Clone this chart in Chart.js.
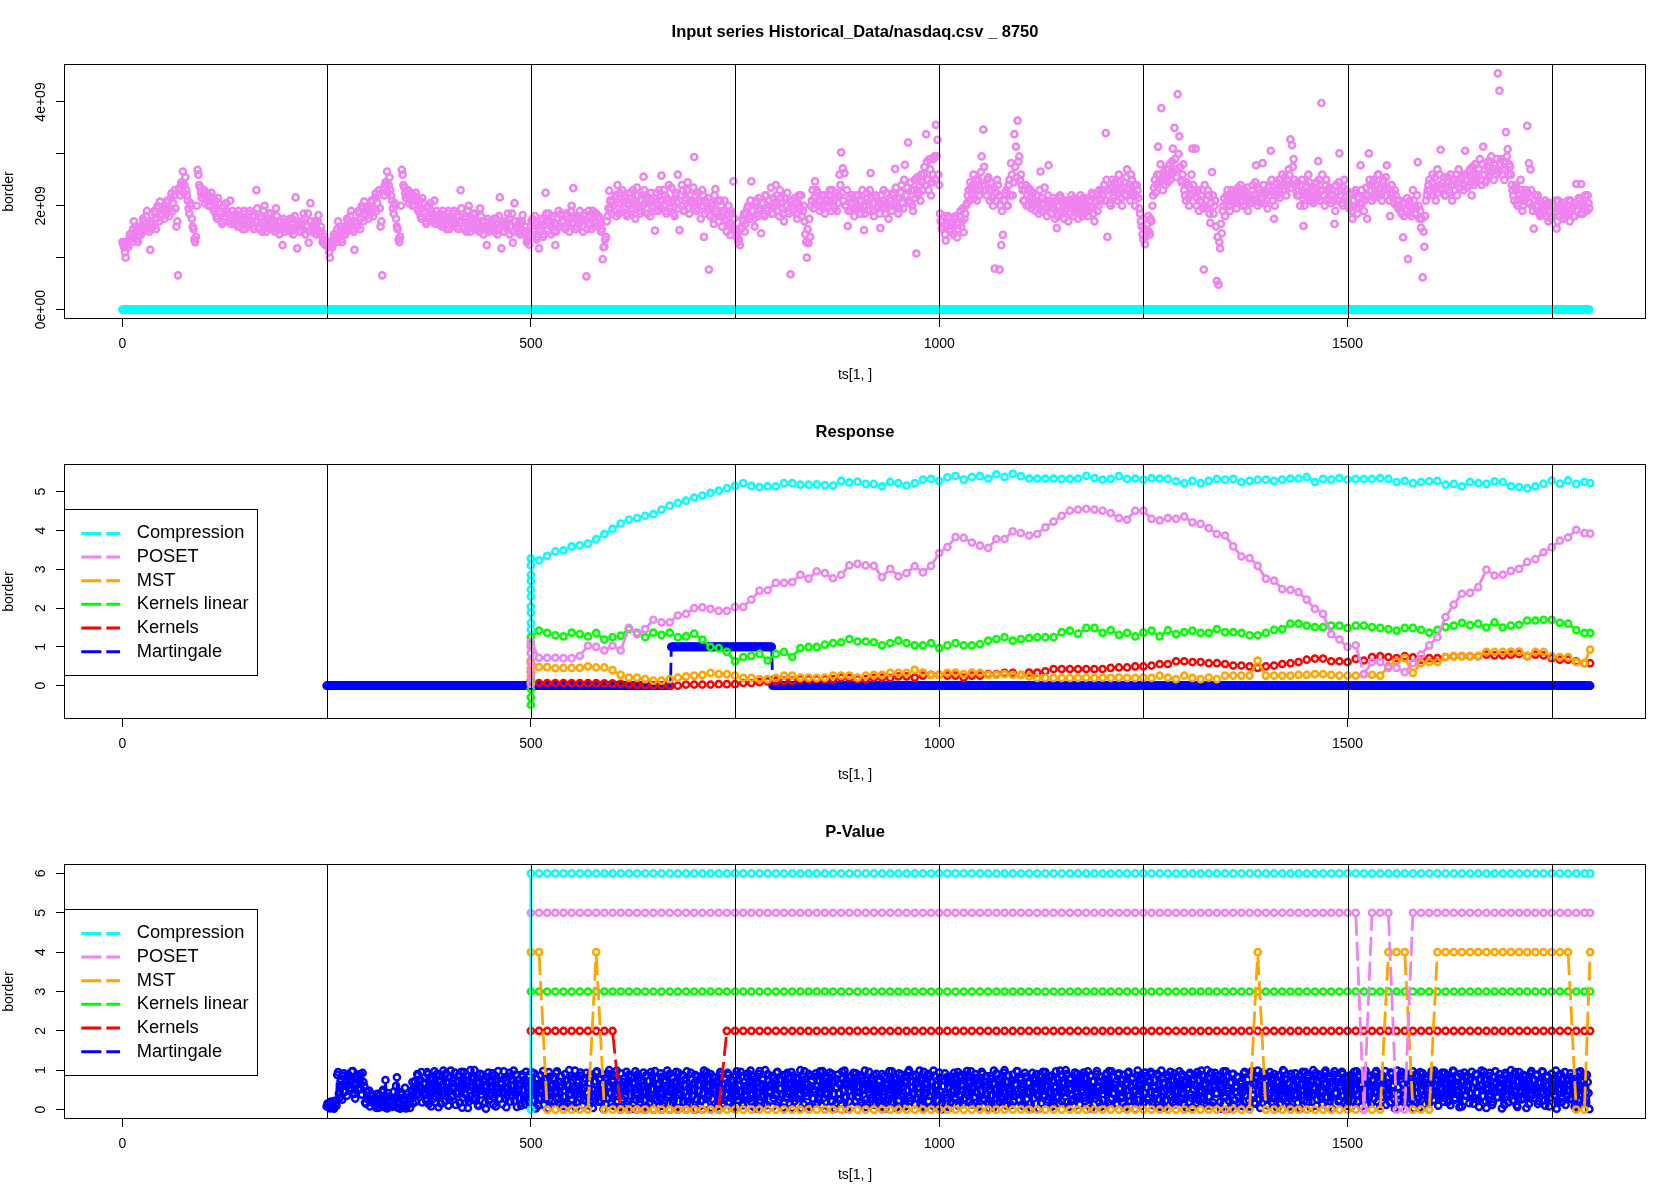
<!DOCTYPE html>
<html>
<head>
<meta charset="utf-8">
<title>nasdaq change detection</title>
<script src="https://cdn.jsdelivr.net/npm/chart.js@4.4.1/dist/chart.umd.min.js"></script>
<style>
  body { margin: 0; background: #fff; }
  canvas { display: block; width: 1680px; height: 400px; }
</style>
</head>
<body>
<canvas id="inputChart" width="1680" height="400"></canvas>
<canvas id="responseChart" width="1680" height="400"></canvas>
<canvas id="pvalueChart" width="1680" height="400"></canvas>
<script>
Chart.defaults.font.family = "'Liberation Sans', Arial, Helvetica, sans-serif";
Chart.defaults.font.size = 14;
Chart.defaults.color = "#000";

const methodNames = ["Compression", "POSET", "MST", "Kernels linear", "Kernels", "Martingale"];
const methodColors = ["#00ffff", "#ee82ee", "#ffa500", "#00ff00", "#ff0000", "#0000ff"];

const changeMarks = [250, 500, 750, 1000, 1250, 1500, 1750];
const xTicks = [0, 500, 1000, 1500];
const xRange = [-71.6, 1865.4];

// ---- input series (volume, in units of 1e9)
const inputTicks = [0, 1, 2, 3, 4];
const inputTickLabels = ["0e+00", "", "2e+09", "", "4e+09"];
const inputRange = [-0.182, 4.732];
const blockShift = 250; // the file repeats rows 0-248 as rows 250-498
// rows 0, 2, ..., 248
const inputBlockEven = [
  1.3, 1.2, 1.0, 1.25, 1.35,
  1.4, 1.3, 1.7, 1.5, 1.35, 1.45,
  1.6, 1.5, 1.7, 1.65, 1.9, 1.55, 1.15,
  1.7, 1.6, 1.85, 1.75, 1.95, 2.08, 1.8, 1.9,
  2.0, 1.85, 2.1, 1.95, 2.24, 2.05, 2.3, 1.6,
  0.66, 2.35, 2.45, 2.66, 2.4, 2.3, 2.1,
  1.85, 2.0, 1.6, 1.35, 1.4, 2.69, 2.4,
  2.25, 2.2, 2.3, 2.15, 2.1, 2.2, 2.0, 2.15,
  1.9, 2.1, 1.75, 2.05, 1.85, 1.65, 2.0, 1.8, 1.9, 1.7, 2.1, 1.75,
  1.8, 1.65, 1.75, 1.9, 1.6, 1.7, 1.85, 1.55, 1.75, 1.65, 1.9, 1.7, 1.6, 1.8, 2.3,
  1.7, 1.55, 1.8, 1.65, 2.0, 1.5, 1.75, 1.6, 1.85, 1.55, 1.7, 1.95, 1.6, 1.45, 1.7, 1.24, 1.65, 1.55,
  1.7, 1.6, 1.5, 1.75, 1.55, 2.16, 1.18, 1.65, 1.5, 1.7, 1.85, 1.45, 1.6, 1.29, 2.05,
  1.6, 1.5, 1.7, 1.55, 1.82, 1.45, 1.5, 1.35, 1.25
];
// rows 1, 3, ..., 247
const inputBlockOdd = [
  1.25, 1.1, 1.3, 1.2, 1.45,
  1.35, 1.55, 1.4, 1.6, 1.3, 1.55,
  1.45, 1.75, 1.55, 1.8, 1.6, 1.5, 1.7,
  1.65, 1.9, 1.55, 2.0, 1.7, 1.85, 1.95, 1.75,
  1.95, 2.1, 1.8, 2.15, 1.9, 2.2, 1.95, 1.7,
  2.3, 2.2, 2.4, 2.25, 2.55, 2.2, 1.95,
  2.05, 1.75, 1.55, 1.3, 2.0, 2.6, 2.35,
  2.15, 2.3, 2.05, 2.25, 2.0, 2.1, 2.25, 1.95,
  2.0, 1.8, 2.15, 1.9, 1.7, 1.95, 1.75, 2.05, 1.85, 1.8, 1.65, 1.9,
  1.7, 1.85, 1.6, 1.8, 1.75, 1.55, 1.9, 1.7, 1.6, 1.85, 1.65, 1.8, 1.55, 1.7, 1.95,
  1.6, 1.75, 1.5, 1.9, 1.7, 1.6, 1.85, 1.55, 1.7, 1.65, 1.5, 1.8, 1.7, 1.55, 1.6, 1.75, 1.5, 1.7,
  1.55, 1.75, 1.65, 1.45, 1.8, 1.6, 1.7, 1.5, 1.65, 1.55, 1.75, 1.6, 1.85, 1.5, 1.7,
  1.55, 1.65, 1.45, 1.7, 1.5, 1.6, 1.3, 1.4
];
// rows 500, 502, ..., 1796
const inputRestEven = [
  1.6, 1.75, 1.5, 1.65, 1.4, 1.18, 1.55, 1.7, 1.45, 2.25,
  1.7, 1.85, 1.6, 1.75, 1.5, 1.24, 1.65, 1.9, 1.6, 1.8,
  1.7, 1.55, 1.85, 1.65, 1.75, 2.0, 2.34, 1.8, 1.6, 1.75,
  1.9, 1.7, 1.5, 1.85, 0.64, 1.65, 1.8, 1.55, 1.9, 1.7,
  1.85, 1.6, 1.75, 1.5, 0.97, 1.21, 1.4, 1.8, 2.29, 1.95,
  2.1, 1.9, 2.2, 2.4, 1.85, 2.05, 2.3, 1.95, 2.15, 1.8,
  2.0, 2.25, 1.9, 2.1, 1.75, 2.35, 2.0, 1.85, 2.2, 2.56,
  2.05, 1.95, 2.15, 1.8, 2.1, 2.0, 1.52, 2.25, 1.9, 2.1,
  2.58, 2.0, 2.2, 1.85, 2.1, 1.95, 2.35, 2.05, 1.8, 2.2,
  2.6, 1.53, 2.0, 2.3, 1.9, 2.15, 2.45, 1.85, 2.1, 2.0,
  2.94, 2.2, 1.95, 2.05, 1.75, 2.3, 1.4, 2.1, 1.9, 0.77,
  1.8, 2.0, 1.65, 2.32, 1.85, 1.7, 2.1, 1.6, 1.9, 1.75,
  1.5, 2.0, 1.44, 1.85, 2.47, 1.55, 1.4, 1.3, 1.24, 1.6,
  1.7, 1.5, 1.85, 2.0, 1.75, 2.47, 1.9, 1.6, 2.1, 1.8,
  1.95, 1.47, 2.05, 1.8, 2.2, 1.9, 2.1, 2.35, 1.85, 2.0,
  2.4, 2.05, 1.8, 2.15, 1.95, 1.7, 2.0, 2.25, 1.85, 0.68,
  2.1, 1.9, 2.05, 1.75, 2.2, 1.95, 1.8, 2.0, 1.45, 1.0,
  1.28, 1.4, 2.1, 1.95, 2.47, 2.3, 2.1, 1.9, 2.2, 2.05,
  1.85, 2.15, 2.0, 2.3, 1.9, 2.1, 1.95, 2.25, 2.05, 2.6,
  3.03, 2.72, 2.63, 2.0, 1.61, 2.15, 1.9, 2.05, 1.8, 2.2,
  1.95, 2.1, 1.85, 2.3, 1.53, 2.0, 2.15, 1.9, 2.63, 2.05,
  1.8, 2.2, 1.95, 2.1, 1.57, 2.0, 2.3, 1.85, 2.05, 1.75,
  2.1, 1.9, 2.25, 2.71, 2.0, 1.85, 2.15, 2.4, 1.95, 2.79,
  2.2, 3.22, 2.05, 2.3, 1.9, 2.5, 1.08, 2.2, 2.4, 2.6,
  2.3, 2.75, 3.38, 2.5, 2.9, 2.2, 2.6, 2.95, 3.56, 3.27,
  2.4, 1.7, 1.6, 1.8, 1.33, 1.65, 1.75, 1.5, 1.7, 1.6,
  1.8, 1.39, 1.65, 1.9, 1.7, 1.49, 1.85, 2.05, 2.3, 2.45,
  2.2, 2.6, 2.35, 2.1, 2.5, 2.3, 2.95, 3.47, 2.4, 2.2,
  2.55, 2.1, 2.3, 2.0, 0.79, 2.25, 2.4, 0.77, 1.24, 1.44,
  2.1, 2.3, 2.0, 2.5, 2.82, 2.2, 3.38, 3.14, 3.64, 2.95,
  2.6, 2.3, 2.1, 2.4, 2.2, 2.0, 2.3, 2.15, 2.1, 1.9,
  2.2, 1.85, 2.66, 2.05, 1.9, 2.1, 1.8, 2.78, 2.0, 1.95,
  2.15, 1.75, 1.57, 2.0, 2.2, 1.85, 2.1, 1.9, 2.05, 1.7,
  2.0, 2.2, 1.8, 2.1, 1.95, 1.75, 2.05, 1.9, 2.15, 1.85,
  2.0, 1.8, 2.1, 1.95, 2.2, 1.7, 2.05, 1.9, 2.3, 2.1,
  2.2, 2.4, 3.4, 1.4, 2.3, 2.0, 2.5, 2.2, 2.4, 2.1,
  2.6, 2.3, 2.0, 2.45, 2.2, 2.7, 2.35, 2.1, 2.5, 2.25,
  2.0, 2.4, 2.15, 1.85, 1.6, 1.35, 1.26, 1.5, 1.8, 1.45,
  1.7, 2.2, 2.5, 2.4, 3.14, 2.6, 3.88, 2.3, 2.55, 2.7,
  2.45, 2.8, 2.6, 3.1, 3.5, 2.7, 4.15, 3.34, 2.5, 2.6,
  2.3, 2.1, 2.4, 2.0, 2.2, 3.1, 2.3, 3.1, 2.15, 1.9,
  2.1, 2.3, 0.77, 2.0, 1.95, 2.2, 1.67, 2.65, 1.85, 2.1,
  0.55, 0.48, 1.18, 1.47, 2.0, 1.8, 2.2, 2.1, 1.9, 2.3,
  2.05, 2.2, 1.95, 2.35, 2.1, 2.25, 2.0, 2.3, 2.15, 1.9,
  2.2, 2.05, 2.4, 2.1, 2.78, 2.0, 2.3, 2.15, 2.82, 2.05,
  2.25, 1.95, 2.4, 3.06, 2.1, 1.75, 2.3, 2.2, 2.5, 2.35,
  2.6, 2.4, 2.3, 2.5, 2.7, 3.28, 3.17, 2.9, 2.4, 2.2,
  2.3, 2.0, 2.5, 1.61, 2.2, 2.4, 2.6, 2.1, 2.3, 2.05,
  2.2, 2.45, 2.86, 2.1, 3.98, 2.3, 2.0, 2.5, 2.15, 2.35,
  2.05, 2.2, 1.65, 2.4, 2.1, 3.01, 2.3, 2.0, 2.5, 2.2,
  2.1, 1.95, 2.25, 1.75, 2.0, 2.3, 1.85, 2.15, 2.78, 2.05,
  1.9, 2.2, 1.75, 3.01, 2.4, 2.1, 2.5, 2.3, 2.2, 2.6,
  2.35, 2.1, 2.5, 2.2, 2.78, 2.3, 1.8, 2.4, 2.15, 2.3,
  2.0, 1.95, 2.1, 1.85, 1.39, 2.05, 1.9, 0.97, 2.1, 1.8,
  2.3, 2.0, 1.95, 2.84, 1.75, 1.58, 0.62, 1.21, 2.1, 2.3,
  2.5, 2.2, 2.6, 2.3, 2.1, 2.7, 2.4, 3.08, 2.35, 2.55,
  2.2, 2.45, 2.3, 2.6, 2.1, 2.4, 2.5, 2.2, 2.7, 2.35,
  2.5, 2.3, 3.06, 2.6, 2.4, 2.7, 2.2, 2.5, 2.8, 2.45,
  2.6, 2.9, 2.4, 3.14, 2.7, 2.5, 2.85, 2.6, 2.95, 2.7,
  2.8, 2.6, 4.55, 4.22, 2.9, 2.7, 2.5, 3.42, 3.09, 2.8,
  2.6, 2.3, 2.1, 2.4, 2.0, 2.2, 2.5, 1.9, 2.1, 2.3,
  3.54, 2.82, 2.7, 2.0, 1.56, 2.2, 1.9, 2.1, 1.8, 2.0,
  1.85, 2.1, 1.95, 1.7, 2.05, 1.8, 2.0, 1.9, 1.56, 2.1,
  1.8, 2.0, 1.75, 1.95, 1.85, 2.1, 1.7, 1.9, 2.0, 1.8,
  2.42, 1.9, 2.1, 2.42, 1.85, 2.0, 1.9, 2.2, 1.95
];
// rows 501, 503, ..., 1795
const inputRestOdd = [
  1.7, 1.55, 1.8, 1.35, 1.6, 1.5, 1.75, 1.4, 1.65, 1.85,
  1.55, 1.7, 1.45, 1.8, 1.65, 1.5, 1.75, 1.6, 1.85, 1.7,
  1.6, 1.8, 1.7, 1.5, 1.9, 1.65, 1.75, 1.55, 1.8, 1.65,
  1.75, 1.6, 1.8, 1.7, 1.55, 1.9, 1.65, 1.75, 1.6, 1.85,
  1.7, 1.8, 1.65, 1.55, 1.2, 1.35, 1.7, 1.95, 2.1, 1.85,
  2.0, 2.15, 1.8, 2.05, 2.25, 1.9, 2.1, 2.2, 1.85, 2.05,
  2.15, 1.95, 2.3, 1.85, 2.05, 2.2, 1.9, 2.1, 2.0, 2.3,
  2.2, 1.85, 2.05, 2.25, 1.95, 2.15, 1.9, 2.05, 2.3, 1.95,
  2.1, 2.3, 1.9, 2.15, 2.4, 2.0, 2.1, 1.85, 2.25, 2.05,
  1.95, 2.2, 2.4, 1.9, 2.1, 2.3, 1.95, 2.2, 2.05, 2.35,
  2.05, 1.9, 2.25, 2.1, 2.0, 2.2, 1.85, 2.05, 2.15, 1.95,
  2.05, 1.75, 2.2, 1.9, 2.1, 1.8, 2.0, 1.85, 2.1, 1.7,
  1.85, 1.65, 1.9, 1.6, 1.75, 1.5, 1.45, 1.35, 1.55, 1.75,
  1.85, 1.65, 1.95, 1.8, 2.1, 1.9, 1.75, 2.05, 1.85, 2.15,
  1.9, 2.05, 1.85, 2.2, 1.95, 2.1, 2.0, 1.85, 2.15, 2.05,
  2.2, 1.9, 2.3, 2.05, 1.85, 2.15, 2.0, 1.9, 2.1, 2.0,
  1.95, 2.15, 1.85, 2.05, 2.0, 2.2, 1.9, 1.7, 1.3, 1.55,
  1.75, 2.0, 2.3, 2.15, 2.05, 2.25, 2.0, 2.1, 1.95, 2.2,
  2.1, 1.95, 2.2, 2.05, 2.3, 2.0, 2.15, 1.9, 2.2, 2.4,
  2.25, 2.1, 2.0, 2.3, 1.9, 2.05, 2.2, 1.95, 2.1, 2.0,
  2.2, 1.95, 2.1, 2.0, 1.85, 2.25, 2.05, 2.3, 2.15, 1.9,
  2.05, 2.15, 2.0, 1.85, 2.2, 2.1, 1.95, 2.25, 2.0, 2.1,
  2.0, 2.2, 2.05, 2.35, 2.15, 1.95, 2.25, 2.05, 2.5, 2.2,
  2.35, 2.1, 2.45, 2.0, 2.3, 2.15, 2.55, 2.25, 2.1, 2.45,
  2.6, 2.4, 2.85, 2.3, 2.7, 2.45, 2.9, 2.5, 2.95, 2.6,
  1.85, 1.55, 1.7, 1.45, 1.6, 1.8, 1.55, 1.65, 1.45, 1.75,
  1.65, 1.55, 1.8, 1.6, 1.95, 1.75, 2.0, 2.2, 2.1, 2.35,
  2.4, 2.15, 2.5, 2.3, 2.2, 2.65, 2.4, 2.75, 2.3, 2.5,
  2.3, 2.45, 2.15, 2.35, 2.1, 2.5, 2.2, 2.0, 1.9, 2.1,
  2.25, 2.0, 2.4, 2.2, 2.6, 2.45, 2.75, 2.55, 2.85, 2.5,
  2.4, 2.1, 2.3, 2.0, 2.35, 2.15, 1.95, 2.25, 2.0, 2.2,
  2.05, 2.3, 1.9, 2.15, 2.35, 1.95, 2.2, 2.1, 1.85, 2.05,
  1.95, 2.1, 1.8, 2.15, 1.9, 2.05, 1.75, 2.1, 1.95, 2.0,
  1.85, 2.05, 2.15, 1.9, 2.1, 1.95, 2.2, 1.8, 2.05, 2.0,
  2.15, 1.9, 2.0, 2.25, 1.85, 2.1, 2.2, 2.0, 2.15, 2.3,
  2.3, 2.1, 2.5, 2.2, 2.05, 2.35, 2.15, 2.45, 2.3, 2.25,
  2.45, 2.15, 2.35, 2.2, 2.55, 2.3, 2.4, 2.6, 2.2, 2.4,
  2.2, 2.3, 1.95, 1.7, 1.45, 1.55, 1.4, 1.65, 1.5, 1.75,
  2.0, 2.35, 2.25, 2.6, 2.45, 2.8, 2.5, 2.65, 2.4, 2.6,
  2.7, 2.5, 2.85, 2.65, 2.9, 2.55, 3.0, 2.75, 2.45, 2.8,
  2.2, 2.45, 2.15, 2.35, 2.6, 2.4, 2.25, 2.0, 2.3, 2.1,
  2.2, 1.95, 2.4, 2.1, 2.3, 1.85, 2.05, 2.2, 2.0, 1.6,
  1.4, 1.3, 1.65, 1.9, 2.15, 2.05, 2.3, 2.0, 2.2, 2.1,
  2.15, 2.3, 2.05, 2.2, 2.4, 2.1, 2.25, 2.0, 2.35, 2.15,
  2.1, 2.3, 2.2, 2.45, 2.15, 2.35, 2.05, 2.25, 2.4, 2.2,
  2.1, 2.35, 2.2, 2.5, 2.25, 2.0, 2.45, 2.3, 2.15, 2.4,
  2.3, 2.55, 2.2, 2.4, 2.6, 2.35, 2.75, 2.5, 2.3, 2.45,
  2.2, 2.4, 2.15, 2.0, 2.35, 2.25, 2.45, 2.2, 2.1, 2.3,
  2.35, 2.15, 2.5, 2.3, 2.6, 2.2, 2.4, 2.1, 2.3, 2.2,
  2.3, 2.1, 1.9, 2.25, 2.45, 2.2, 2.05, 2.35, 2.15, 2.3,
  2.0, 2.2, 1.9, 2.1, 2.25, 1.95, 2.15, 2.05, 2.3, 2.15,
  2.1, 2.35, 2.2, 2.5, 2.3, 2.45, 2.15, 2.4, 2.6, 2.3,
  2.2, 2.45, 2.3, 2.55, 2.35, 2.1, 2.4, 2.25, 2.05, 2.2,
  2.1, 2.0, 1.9, 2.05, 1.8, 1.95, 2.15, 1.85, 2.0, 1.95,
  2.1, 1.85, 2.2, 2.0, 1.9, 1.75, 1.5, 1.8, 2.2, 2.4,
  2.3, 2.45, 2.2, 2.55, 2.35, 2.25, 2.6, 2.3, 2.45, 2.2,
  2.35, 2.55, 2.25, 2.4, 2.5, 2.3, 2.6, 2.45, 2.35, 2.55,
  2.4, 2.6, 2.5, 2.35, 2.65, 2.45, 2.75, 2.4, 2.6, 2.55,
  2.7, 2.5, 2.8, 2.6, 2.45, 2.75, 2.55, 2.85, 2.65, 2.5,
  2.7, 2.9, 2.65, 2.8, 2.6, 2.85, 2.7, 2.95, 2.6, 2.75,
  2.4, 2.2, 2.35, 2.05, 2.25, 2.1, 2.3, 2.0, 2.2, 2.15,
  2.25, 2.05, 2.3, 1.9, 2.1, 2.0, 2.2, 1.85, 2.05, 1.95,
  2.0, 1.8, 2.05, 1.9, 1.75, 2.0, 1.85, 2.1, 1.7, 1.95,
  1.9, 1.75, 2.05, 1.8, 2.0, 1.85, 2.1, 1.95, 1.8, 2.05,
  1.9, 2.15, 1.85, 2.05, 1.95, 2.2, 1.9, 2.05
];
const inputBaseline = 0; // second series of the top plot sits on zero everywhere

// ---- response panel: every 10 rows from 510, plus the last row
const responseTicks = [0, 1, 2, 3, 4, 5];
const responseTickLabels = ["0", "1", "2", "3", "4", "5"];
const responseRange = [-0.858, 5.714];
const gridFirst = 510, gridLastRegular = 1790, gridStep = 10, gridEnd = 1797;
const warmupX = 500;

// values stacked at row 500 before the regular grid starts
const warmCompression = [1.45, 1.62, 1.88, 2.04, 2.3, 2.48, 2.7, 2.86, 3.1, 3.28];
const warmPoset = [0.05, 0.25, 0.45, 0.66, 0.84, 1.0, 1.13];
const warmMst = [0.05, 0.35, 0.6];
const warmKernelsLinear = [-0.49, -0.3, -0.08, 0.15, 0.38, 0.6, 0.84, 1.05, 1.26];
const warmKernels = [0.1];

const respCompression = [
  3.23, 3.35, 3.46, 3.49, 3.59, 3.62, 3.66, 3.78, 3.91, 4.04,
  4.18, 4.28, 4.32, 4.38, 4.42, 4.54, 4.64, 4.71, 4.77, 4.85,
  4.90, 4.97, 5.03, 5.09, 5.15, 5.22, 5.15, 5.12, 5.14, 5.14,
  5.22, 5.22, 5.18, 5.18, 5.19, 5.17, 5.16, 5.28, 5.24, 5.26,
  5.20, 5.20, 5.14, 5.25, 5.22, 5.16, 5.22, 5.31, 5.33, 5.28,
  5.37, 5.41, 5.31, 5.38, 5.40, 5.34, 5.45, 5.38, 5.46, 5.40,
  5.34, 5.34, 5.34, 5.34, 5.33, 5.33, 5.34, 5.41, 5.35, 5.31,
  5.33, 5.40, 5.33, 5.34, 5.31, 5.35, 5.34, 5.33, 5.27, 5.22,
  5.28, 5.22, 5.28, 5.33, 5.31, 5.33, 5.25, 5.28, 5.31, 5.31,
  5.28, 5.31, 5.34, 5.34, 5.38, 5.25, 5.33, 5.31, 5.35, 5.31,
  5.33, 5.33, 5.33, 5.35, 5.33, 5.25, 5.28, 5.22, 5.25, 5.27,
  5.28, 5.18, 5.20, 5.14, 5.25, 5.22, 5.20, 5.27, 5.25, 5.14,
  5.12, 5.09, 5.14, 5.21, 5.29, 5.21, 5.29, 5.20, 5.25, 5.22
];
const respPoset = [
  0.72, 0.72, 0.72, 0.71, 0.71, 0.77, 1.03, 1.00, 0.91, 1.03,
  0.91, 1.49, 1.33, 1.46, 1.70, 1.63, 1.63, 1.81, 1.85, 2.00,
  2.02, 1.98, 1.93, 1.93, 2.03, 2.03, 2.22, 2.45, 2.46, 2.65,
  2.65, 2.67, 2.86, 2.76, 2.95, 2.90, 2.77, 2.86, 3.10, 3.14,
  3.10, 3.09, 2.80, 3.01, 2.82, 2.90, 3.08, 2.92, 3.09, 3.42,
  3.57, 3.83, 3.81, 3.69, 3.61, 3.55, 3.78, 3.78, 3.98, 3.93,
  3.87, 3.91, 4.08, 4.23, 4.38, 4.51, 4.54, 4.56, 4.54, 4.51,
  4.45, 4.32, 4.28, 4.51, 4.51, 4.30, 4.26, 4.32, 4.30, 4.36,
  4.21, 4.17, 4.06, 3.91, 3.87, 3.59, 3.33, 3.29, 3.09, 2.76,
  2.71, 2.49, 2.47, 2.41, 2.22, 1.98, 1.85, 1.33, 1.19, 1.00,
  1.04, 0.30, 0.61, 0.61, 0.46, 0.46, 0.35, 0.58, 0.80, 1.04,
  1.25, 1.77, 2.09, 2.37, 2.39, 2.54, 2.99, 2.84, 2.86, 2.96,
  3.01, 3.19, 3.26, 3.44, 3.57, 3.74, 3.82, 4.02, 3.93, 3.92
];
const respMst = [
  0.48, 0.48, 0.45, 0.46, 0.46, 0.46, 0.50, 0.47, 0.47, 0.40,
  0.28, 0.21, 0.21, 0.17, 0.13, 0.13, 0.17, 0.21, 0.24, 0.26,
  0.28, 0.33, 0.30, 0.30, 0.26, 0.20, 0.20, 0.17, 0.17, 0.20,
  0.26, 0.26, 0.21, 0.21, 0.20, 0.21, 0.26, 0.26, 0.26, 0.21,
  0.26, 0.28, 0.28, 0.33, 0.33, 0.33, 0.41, 0.34, 0.28, 0.28,
  0.33, 0.34, 0.30, 0.34, 0.33, 0.28, 0.28, 0.30, 0.28, 0.28,
  0.24, 0.20, 0.20, 0.20, 0.20, 0.20, 0.20, 0.21, 0.20, 0.21,
  0.20, 0.21, 0.20, 0.20, 0.21, 0.20, 0.26, 0.21, 0.17, 0.26,
  0.20, 0.17, 0.21, 0.17, 0.26, 0.26, 0.26, 0.26, 0.65, 0.26,
  0.26, 0.26, 0.26, 0.28, 0.28, 0.30, 0.30, 0.28, 0.26, 0.26,
  0.26, 0.30, 0.28, 0.26, 0.50, 0.63, 0.71, 0.33, 0.58, 0.61,
  0.61, 0.74, 0.76, 0.76, 0.76, 0.77, 0.87, 0.87, 0.87, 0.88,
  0.88, 0.77, 0.87, 0.87, 0.76, 0.74, 0.74, 0.61, 0.58, 0.93
];
const respKernelsLinear = [
  1.42, 1.36, 1.30, 1.27, 1.37, 1.33, 1.27, 1.36, 1.19, 1.25,
  1.29, 1.46, 1.36, 1.25, 1.37, 1.31, 1.37, 1.25, 1.27, 1.34,
  1.19, 1.00, 0.97, 0.87, 0.63, 0.74, 0.77, 0.82, 0.65, 0.82,
  0.87, 0.74, 0.97, 1.00, 1.00, 1.06, 1.10, 1.12, 1.20, 1.14,
  1.14, 1.12, 1.04, 1.10, 1.16, 1.10, 1.04, 1.04, 1.10, 0.97,
  1.04, 1.10, 1.04, 1.04, 1.07, 1.16, 1.20, 1.25, 1.16, 1.20,
  1.23, 1.25, 1.25, 1.25, 1.38, 1.42, 1.34, 1.49, 1.49, 1.36,
  1.43, 1.31, 1.36, 1.27, 1.37, 1.42, 1.27, 1.43, 1.33, 1.38,
  1.42, 1.36, 1.36, 1.46, 1.38, 1.38, 1.36, 1.30, 1.30, 1.36,
  1.44, 1.46, 1.60, 1.60, 1.55, 1.51, 1.51, 1.55, 1.55, 1.49,
  1.55, 1.55, 1.51, 1.49, 1.46, 1.42, 1.49, 1.49, 1.44, 1.37,
  1.44, 1.51, 1.55, 1.62, 1.56, 1.60, 1.50, 1.63, 1.50, 1.55,
  1.57, 1.68, 1.68, 1.70, 1.70, 1.62, 1.60, 1.43, 1.36, 1.36
];
const respKernels = [
  0.07, 0.07, 0.07, 0.07, 0.07, 0.07, 0.07, 0.07, 0.06, 0.06,
  0.05, 0.03, 0.02, 0.02, 0.01, 0.01, 0.00, 0.00, 0.03, 0.03,
  0.03, 0.03, 0.04, 0.04, 0.04, 0.07, 0.07, 0.09, 0.11, 0.13,
  0.13, 0.13, 0.17, 0.17, 0.17, 0.17, 0.17, 0.21, 0.20, 0.17,
  0.17, 0.20, 0.21, 0.20, 0.24, 0.24, 0.21, 0.26, 0.28, 0.28,
  0.26, 0.26, 0.21, 0.26, 0.26, 0.30, 0.30, 0.33, 0.33, 0.28,
  0.34, 0.34, 0.37, 0.43, 0.43, 0.43, 0.43, 0.43, 0.43, 0.43,
  0.46, 0.47, 0.47, 0.50, 0.50, 0.52, 0.56, 0.56, 0.63, 0.63,
  0.61, 0.61, 0.58, 0.58, 0.56, 0.52, 0.52, 0.50, 0.46, 0.50,
  0.52, 0.56, 0.58, 0.61, 0.67, 0.70, 0.70, 0.63, 0.63, 0.61,
  0.69, 0.65, 0.74, 0.76, 0.74, 0.71, 0.76, 0.73, 0.67, 0.71,
  0.71, 0.74, 0.76, 0.76, 0.76, 0.76, 0.80, 0.78, 0.78, 0.80,
  0.82, 0.76, 0.80, 0.78, 0.71, 0.67, 0.67, 0.63, 0.58, 0.58
];
// martingale response: [first row, last row, level], one point per row
const respMartingaleRuns = [[250, 671, 0], [672, 795, 1], [796, 1797, 0]];

// ---- p-value panel
const pvalueTicks = [0, 1, 2, 3, 4, 5, 6];
const pvalueTickLabels = ["0", "1", "2", "3", "4", "5", "6"];
const pvalueRange = [-0.24, 6.24];
// [first row, last row, level] on the 10-row grid (row 500 included)
const pvCompressionRuns = [[500, 500, 0], [500, 1797, 6]];
const pvPosetRuns = [[500, 1510, 5], [1520, 1520, 0], [1530, 1550, 5], [1560, 1570, 0], [1580, 1797, 5]];
const pvMstRuns = [[500, 510, 4], [520, 570, 0], [580, 580, 4], [590, 1380, 0], [1390, 1390, 4],
  [1400, 1540, 0], [1550, 1570, 4], [1580, 1600, 0], [1610, 1770, 4], [1780, 1790, 0], [1797, 1797, 4]];
const pvKernelsLinearRuns = [[500, 1797, 3]];
const pvKernelsRuns = [[500, 600, 2], [610, 730, 0], [740, 1797, 2]];
// martingale p-values in hundredths: rows 250, 252, ..., 1796
const pvMartingaleStart = 250;
const pvMartingaleEven = [
  8, 12, 3, 18, 5, 22, 10, 95, 30, 62, 85, 45, 78, 90, 55, 70, 98, 40, 66, 88,
  75, 52, 93, 60, 15, 30, 48, 22, 35, 20, 12, 40, 5, 28, 45, 10, 75, 3, 33, 18,
  7, 45, 25, 82, 14, 2, 38, 20, 55, 9, 30, 4, 48, 16, 72, 35, 88, 60, 95, 42,
  68, 22, 90, 50, 8, 76, 97, 33, 58, 85, 15, 64, 40, 92, 70, 26, 99, 53, 80, 12,
  45, 88, 62, 5, 95, 38, 74, 20, 100, 56, 83, 30, 67, 9, 91, 48, 77, 18, 60, 94,
  35, 70, 13, 86, 52, 98, 27, 64, 42, 81, 6, 58, 93, 37, 75, 21, 89, 47, 66, 10,
  84, 31, 96, 55, 17, 73, 40, 92, 3, 65, 28, 87, 50, 12, 78, 36, 95, 60, 22, 80,
  44, 97, 15, 70, 58, 33, 90, 7, 62, 85, 25, 48, 99, 18, 74, 40, 86, 11, 55, 93,
  30, 67, 82, 4, 51, 95, 38, 76, 20, 63, 89, 14, 57, 100, 42, 71, 9, 84, 34, 60,
  92, 26, 78, 47, 13, 88, 55, 2, 69, 97, 36, 80, 18, 61, 94, 45, 7, 72, 29, 86,
  52, 98, 23, 66, 40, 83, 10, 75, 58, 31, 91, 49, 16, 70, 96, 37, 64, 5, 87, 44,
  79, 19, 57, 93, 34, 68, 1, 85, 47, 22, 74, 99, 12, 61, 38, 90, 27, 82, 53, 8,
  67, 95, 41, 15, 77, 56, 88, 30, 6, 72, 46, 97, 24, 63, 85, 11, 59, 36, 92, 73,
  20, 84, 50, 3, 69, 98, 32, 76, 14, 58, 90, 43, 65, 8, 81, 37, 96, 25, 54, 87,
  16, 71, 93, 39, 62, 4, 86, 48, 28, 79, 100, 55, 13, 68, 34, 91, 7, 74, 45, 83,
  60, 26, 97, 10, 52, 80, 38, 66, 94, 21, 73, 2, 57, 89, 41, 15, 78, 99, 31, 64,
  47, 85, 9, 70, 92, 33, 59, 18, 82, 50, 6, 75, 96, 29, 63, 87, 12, 44, 71, 24,
  90, 55, 3, 68, 36, 81, 97, 16, 49, 77, 23, 62, 88, 40, 8, 73, 95, 30, 58, 84,
  14, 66, 42, 99, 27, 79, 5, 53, 91, 35, 70, 11, 86, 60, 22, 94, 45, 1, 76, 38,
  83, 57, 19, 72, 93, 31, 64, 9, 87, 48, 25, 80, 98, 37, 69, 13, 56, 90, 43, 7,
  74, 96, 28, 61, 85, 17, 52, 78, 4, 67, 92, 39, 20, 82, 58, 100, 33, 71, 46, 12,
  89, 35, 63, 97, 24, 76, 50, 8, 84, 41, 68, 15, 93, 29, 75, 56, 2, 88, 62, 37,
  95, 18, 73, 44, 86, 10, 59, 81, 32, 99, 21, 66, 47, 90, 6, 77, 53, 26, 94, 40,
  69, 13, 87, 58, 30, 79, 97, 45, 3, 72, 36, 91, 61, 19, 84, 50, 76, 9, 65, 98,
  27, 83, 42, 70, 14, 92, 55, 34, 88, 7, 63, 96, 22, 78, 48, 1, 86, 39, 67, 80,
  16, 94, 57, 31, 75, 90, 11, 60, 43, 85, 25, 99, 68, 5, 52, 81, 36, 73, 18, 92,
  46, 64, 97, 28, 83, 12, 71, 54, 89, 38, 6, 77, 60, 95, 23, 49, 87, 15, 66, 100,
  33, 80, 9, 62, 93, 41, 74, 20, 58, 97, 30, 85, 47, 3, 69, 91, 24, 56, 82, 13,
  72, 44, 96, 35, 61, 8, 88, 51, 17, 79, 99, 26, 63, 94, 40, 75, 11, 84, 53, 29,
  90, 57, 4, 70, 86, 32, 98, 45, 21, 67, 83, 14, 59, 92, 38, 76, 2, 65, 48, 95,
  19, 81, 62, 37, 100, 54, 10, 73, 89, 28, 46, 94, 66, 7, 85, 31, 58, 97, 42, 78,
  24, 69, 91, 15, 56, 83, 39, 6, 77, 96, 50, 20, 88, 63, 34, 72, 99, 12, 47, 86,
  60, 27, 93, 44, 75, 9, 82, 53, 98, 36, 68, 18, 90, 41, 3, 79, 57, 25, 95, 64,
  30, 87, 48, 13, 71, 97, 22, 59, 84, 5, 66, 92, 38, 76, 52, 16, 89, 43, 99, 62,
  77, 33, 55, 94, 20, 68, 86, 45, 11, 80, 97, 29, 64, 50, 91, 8, 73, 37, 85, 58,
  42, 96, 15, 70, 88, 26, 61, 99, 34, 78, 4, 53, 93, 47, 19, 83, 66, 31, 90, 56,
  74, 12, 87, 39, 62, 100, 23, 81, 50, 7, 95, 44, 69, 28, 85, 58, 14, 92, 36, 76,
  55, 89, 21, 67, 97, 40, 10, 82, 63, 30, 91, 47, 73, 2, 86, 52, 18, 78, 95, 35,
  64, 27, 83, 49, 8, 72, 94, 38, 60, 15, 88, 45, 70, 1
];
// rows 251, 253, ..., 1795
const pvMartingaleOdd = [
  15, 6, 20, 9, 2, 14, 88, 40, 72, 25, 92, 60, 35, 82, 48, 97, 65, 28, 80, 52,
  90, 38, 70, 18, 45, 25, 8, 40, 16, 30, 4, 22, 36, 12, 50, 6, 28, 42, 9, 24,
  30, 11, 60, 5, 20, 44, 8, 26, 3, 40, 15, 35, 70, 55, 20, 90, 40, 75, 18, 65,
  37, 95, 14, 81, 60, 28, 52, 90, 6, 73, 46, 99, 21, 67, 10, 84, 33, 58, 94, 41,
  73, 17, 96, 30, 63, 86, 4, 49, 79, 25, 100, 44, 12, 70, 38, 88, 57, 2, 82, 26,
  60, 92, 31, 8, 77, 45, 69, 14, 97, 53, 36, 84, 20, 62, 99, 41, 7, 75, 29, 89,
  50, 13, 68, 87, 34, 95, 22, 59, 78, 10, 46, 71, 98, 33, 56, 3, 83, 40, 64, 18,
  93, 27, 61, 85, 9, 48, 74, 16, 100, 38, 57, 82, 5, 69, 31, 94, 50, 24, 79, 43,
  11, 88, 53, 36, 72, 97, 20, 64, 45, 1, 80, 29, 91, 58, 15, 76, 39, 99, 62, 7,
  47, 70, 33, 96, 21, 56, 84, 12, 66, 43, 90, 27, 74, 3, 59, 87, 35, 16, 95, 52,
  28, 79, 63, 8, 92, 44, 17, 71, 99, 37, 55, 82, 24, 6, 68, 93, 41, 86, 19, 61,
  97, 35, 14, 77, 50, 88, 26, 63, 9, 81, 42, 70, 95, 31, 57, 4, 84, 46, 73, 22,
  58, 89, 10, 66, 38, 93, 19, 75, 52, 2, 87, 34, 61, 96, 15, 70, 48, 83, 27, 99,
  41, 7, 78, 56, 91, 23, 64, 36, 100, 12, 72, 47, 85, 29, 60, 94, 18, 53, 76, 5,
  88, 32, 67, 14, 95, 49, 21, 80, 58, 37, 3, 74, 97, 43, 65, 9, 86, 28, 51, 92,
  17, 73, 45, 98, 30, 62, 84, 6, 56, 90, 39, 13, 77, 66, 25, 96, 48, 70, 2, 82,
  60, 34, 93, 20, 71, 44, 87, 11, 53, 99, 26, 65, 38, 80, 14, 57, 91, 31, 75, 8,
  46, 85, 62, 27, 97, 18, 54, 79, 4, 68, 92, 35, 58, 13, 83, 49, 100, 22, 71, 40,
  88, 29, 55, 74, 10, 96, 42, 64, 21, 86, 47, 99, 6, 63, 37, 81, 16, 59, 92, 30,
  69, 5, 84, 50, 26, 77, 95, 38, 61, 14, 89, 43, 72, 19, 97, 55, 32, 80, 8, 66,
  47, 91, 23, 70, 58, 2, 85, 36, 99, 51, 15, 76, 62, 28, 94, 41, 10, 87, 54, 73,
  20, 64, 98, 39, 81, 12, 57, 93, 27, 68, 45, 3, 79, 52, 90, 34, 71, 16, 96, 48,
  62, 25, 83, 7, 74, 56, 97, 31, 15, 88, 42, 69, 100, 19, 53, 80, 36, 8, 65, 91,
  33, 78, 49, 94, 22, 60, 11, 86, 45, 71, 28, 98, 55, 6, 82, 39, 67, 92, 17, 58,
  97, 40, 63, 14, 89, 52, 29, 76, 4, 68, 93, 35, 58, 81, 20, 46, 99, 61, 9, 74,
  43, 85, 26, 70, 96, 18, 55, 38, 91, 64, 7, 79, 47, 23, 88, 60, 96, 32, 75, 13,
  84, 21, 58, 90, 39, 72, 4, 66, 93, 30, 52, 87, 16, 74, 44, 99, 27, 61, 10, 80,
  57, 94, 18, 73, 41, 86, 63, 2, 78, 35, 97, 54, 22, 68, 90, 12, 45, 83, 31, 66,
  9, 92, 50, 76, 24, 59, 98, 38, 15, 84, 62, 4, 71, 47, 89, 26, 56, 95, 19, 80,
  34, 69, 87, 13, 52, 100, 28, 77, 43, 8, 91, 60, 36, 74, 17, 85, 49, 96, 23, 63,
  88, 39, 5, 71, 56, 93, 25, 82, 47, 14, 66, 99, 31, 78, 53, 2, 89, 42, 70, 20,
  61, 96, 35, 80, 10, 58, 87, 44, 22, 73, 97, 38, 65, 8, 92, 51, 27, 84, 60, 15,
  76, 45, 98, 20, 67, 89, 33, 55, 12, 81, 40, 94, 62, 26, 72, 99, 37, 6, 86, 50,
  92, 18, 64, 79, 36, 3, 88, 57, 28, 95, 46, 70, 14, 83, 61, 33, 97, 24, 74, 41,
  10, 86, 52, 30, 93, 66, 19, 78, 44, 99, 25, 58, 83, 6, 71, 48, 94, 35, 62, 16,
  81, 55, 28, 90, 43, 7, 76, 64, 96, 21, 50, 85, 38, 12, 69, 97, 32, 57, 79, 3,
  45, 93, 67, 18, 84, 36, 59, 95, 11, 72, 48, 26, 88, 63, 4, 80, 41, 98, 54, 29,
  87, 14, 70, 44, 96, 23, 61, 85, 8, 52, 78, 37, 99, 19, 66, 90, 31, 57, 12, 75,
  48, 92, 26, 68, 83, 5, 56, 97, 34, 71, 17, 88, 42
];

// ---- build point lists
const responseGrid = [];
for (let x = gridFirst; x <= gridLastRegular; x += gridStep) responseGrid.push(x);
responseGrid.push(gridEnd);
const pvalueGrid = [warmupX, ...responseGrid];

// merge the even-row and odd-row readings of one stretch into row order
function mergeRows(start, even, odd, scale) {
  const pts = [];
  even.forEach((v, i) => pts.push({ x: start + 2 * i, y: v * scale }));
  odd.forEach((v, i) => pts.push({ x: start + 1 + 2 * i, y: v * scale }));
  return pts.sort((a, b) => a.x - b.x);
}
function onGrid(grid, values) {
  return values.map((v, i) => ({ x: grid[i], y: v }));
}
function withWarmup(warm, values) {
  return [...warm.map(v => ({ x: warmupX, y: v })), ...onGrid(responseGrid, values)];
}
function fromRuns(grid, runs) {
  const pts = [];
  runs.forEach(([a, b, v]) => grid.forEach(x => { if (x >= a && x <= b) pts.push({ x, y: v }); }));
  return pts;
}
function everyRow(runs) {
  const pts = [];
  runs.forEach(([a, b, v]) => { for (let x = a; x <= b; x++) pts.push({ x, y: v }); });
  return pts;
}

function pointSet(label, color, data, rLine) {
  return {
    label, data, rLine,
    borderColor: color, backgroundColor: "rgba(0,0,0,0)",
    pointBorderColor: color, pointBackgroundColor: "rgba(0,0,0,0)",
    pointRadius: 3.1, pointBorderWidth: 2.5, borderWidth: 2.5,
    pointHoverRadius: 3.1, showLine: false
  };
}

// type="b" style joins: dashed segments that stop short of each circle
const rLines = {
  id: "rLines",
  beforeDatasetDraw(chart, args) {
    const ds = chart.data.datasets[args.index];
    if (!ds.rLine) return;
    const pts = args.meta.data;
    const { ctx, chartArea: a } = chart;
    const gap = 4;
    ctx.save();
    ctx.beginPath();
    ctx.rect(a.left, a.top, a.right - a.left, a.bottom - a.top);
    ctx.clip();
    ctx.strokeStyle = ds.borderColor;
    ctx.lineWidth = 2.8;
    ctx.lineCap = "butt";
    for (let i = 1; i < pts.length; i++) {
      const p = pts[i - 1], q = pts[i];
      const dx = q.x - p.x, dy = q.y - p.y;
      const len = Math.hypot(dx, dy);
      if (len <= 2 * gap + 1) continue;
      const ux = dx / len, uy = dy / len;
      ctx.setLineDash(Math.abs(dx) < 0.01 ? [] : [19, 6]);
      ctx.lineDashOffset = 0;
      ctx.beginPath();
      ctx.moveTo(p.x + ux * gap, p.y + uy * gap);
      ctx.lineTo(q.x - ux * gap, q.y - uy * gap);
      ctx.stroke();
    }
    ctx.restore();
  }
};

// box round the plot region and the thin vertical change marks
const frame = {
  id: "frame",
  afterDatasetsDraw(chart) {
    const { ctx, chartArea: a, scales } = chart;
    ctx.save();
    ctx.strokeStyle = "#000";
    ctx.lineWidth = 1;
    ctx.setLineDash([]);
    changeMarks.forEach(v => {
      const x = Math.round(scales.x.getPixelForValue(v)) + 0.5;
      ctx.beginPath();
      ctx.moveTo(x, a.top);
      ctx.lineTo(x, a.bottom);
      ctx.stroke();
    });
    ctx.strokeRect(Math.round(a.left) + 0.5, Math.round(a.top) + 0.5,
      Math.round(a.right - a.left) - 1, Math.round(a.bottom - a.top) - 1);
    ctx.restore();
  }
};

// R-like legend box at the left edge, centred vertically
const rLegend = {
  id: "rLegend",
  afterDraw(chart, args, opts) {
    if (!opts.show) return;
    const { ctx, chartArea: a } = chart;
    const w = 193, h = 166;
    const left = Math.round(a.left), top = Math.round((a.top + a.bottom) / 2 - h / 2);
    ctx.save();
    ctx.fillStyle = "#fff";
    ctx.fillRect(left, top, w, h);
    ctx.strokeStyle = "#000";
    ctx.lineWidth = 1;
    ctx.strokeRect(left + 0.5, top + 0.5, w, h);
    ctx.font = "18.3px 'Liberation Sans', Arial, sans-serif";
    ctx.textBaseline = "middle";
    chart.data.datasets.forEach((ds, i) => {
      const y = top + 24.4 + i * 23.65;
      ctx.strokeStyle = ds.borderColor;
      ctx.lineWidth = 3;
      ctx.setLineDash([20, 5]);
      ctx.beginPath();
      ctx.moveTo(left + 17.3, y);
      ctx.lineTo(left + 56, y);
      ctx.stroke();
      ctx.setLineDash([]);
      ctx.fillStyle = "#000";
      ctx.fillText(ds.label, left + 72.7, y);
    });
    ctx.restore();
  }
};

function makePanel(id, title, yRange, yTicks, yLabels, yPad, datasets, legend) {
  return new Chart(document.getElementById(id), {
    type: "scatter",
    data: { datasets },
    options: {
      responsive: false,
      animation: false,
      devicePixelRatio: 1,
      events: [],
      layout: { padding: { left: 0, right: 34, top: 0, bottom: 0 } },
      plugins: {
        legend: { display: false },
        tooltip: { enabled: false },
        title: {
          display: true, text: title, fullSize: false, color: "#000",
          font: { size: 16.5, weight: "bold" }, padding: { top: 22.8, bottom: 21.4 }
        },
        rLegend: { show: legend }
      },
      scales: {
        x: {
          type: "linear", min: xRange[0], max: xRange[1],
          afterBuildTicks: s => { s.ticks = xTicks.map(v => ({ value: v })); },
          afterFit: s => { s.height = 81; },
          grid: { drawOnChartArea: false, drawTicks: true, tickLength: 8, color: "#000", lineWidth: 1 },
          border: { display: false },
          ticks: { autoSkip: false, maxRotation: 0, padding: 8.5, color: "#000", font: { size: 14 }, callback: v => String(v) },
          title: { display: true, text: "ts[1, ]", color: "#000", font: { size: 14 }, padding: { top: 0, bottom: 16.6 } }
        },
        y: {
          type: "linear", min: yRange[0], max: yRange[1],
          afterBuildTicks: s => { s.ticks = yTicks.map(v => ({ value: v })); },
          afterFit: s => { s.width = 64; },
          grid: { drawOnChartArea: false, drawTicks: true, tickLength: 8, color: "#000", lineWidth: 1 },
          border: { display: false },
          ticks: {
            autoSkip: false, minRotation: 90, maxRotation: 90, crossAlign: "center",
            padding: yPad, color: "#000", font: { size: 14 }, callback: (v, i) => yLabels[i]
          },
          title: { display: true, text: "border", color: "#000", font: { size: 14 }, padding: { top: 0.6, bottom: 0 } }
        }
      }
    },
    plugins: [rLines, frame, rLegend]
  });
}

// top panel
const inputPoints = [
  ...mergeRows(0, inputBlockEven, inputBlockOdd, 1),
  ...mergeRows(blockShift, inputBlockEven, inputBlockOdd, 1),
  ...mergeRows(500, inputRestEven, inputRestOdd, 1)
];
const basePoints = inputPoints.map(p => ({ x: p.x, y: inputBaseline }));
makePanel("inputChart", "Input series Historical_Data/nasdaq.csv _ 8750", inputRange,
  inputTicks, inputTickLabels, -4.8, [
    pointSet("Input series", "#ee82ee", inputPoints, false),
    pointSet("border", "#00ffff", basePoints, false)
  ], false);

// response panel
makePanel("responseChart", "Response", responseRange, responseTicks, responseTickLabels, 10.6, [
  pointSet(methodNames[0], methodColors[0], withWarmup(warmCompression, respCompression), true),
  pointSet(methodNames[1], methodColors[1], withWarmup(warmPoset, respPoset), true),
  pointSet(methodNames[2], methodColors[2], withWarmup(warmMst, respMst), true),
  pointSet(methodNames[3], methodColors[3], withWarmup(warmKernelsLinear, respKernelsLinear), true),
  pointSet(methodNames[4], methodColors[4], withWarmup(warmKernels, respKernels), true),
  pointSet(methodNames[5], methodColors[5], everyRow(respMartingaleRuns), true)
], true);

// p-value panel
const pvMartingale = mergeRows(pvMartingaleStart, pvMartingaleEven, pvMartingaleOdd, 0.01);
makePanel("pvalueChart", "P-Value", pvalueRange, pvalueTicks, pvalueTickLabels, 10.6, [
  pointSet(methodNames[0], methodColors[0], fromRuns(pvalueGrid, pvCompressionRuns), true),
  pointSet(methodNames[1], methodColors[1], fromRuns(pvalueGrid, pvPosetRuns), true),
  pointSet(methodNames[2], methodColors[2], fromRuns(pvalueGrid, pvMstRuns), true),
  pointSet(methodNames[3], methodColors[3], fromRuns(pvalueGrid, pvKernelsLinearRuns), true),
  pointSet(methodNames[4], methodColors[4], fromRuns(pvalueGrid, pvKernelsRuns), true),
  pointSet(methodNames[5], methodColors[5], pvMartingale, true)
], true);
</script>
</body>
</html>
